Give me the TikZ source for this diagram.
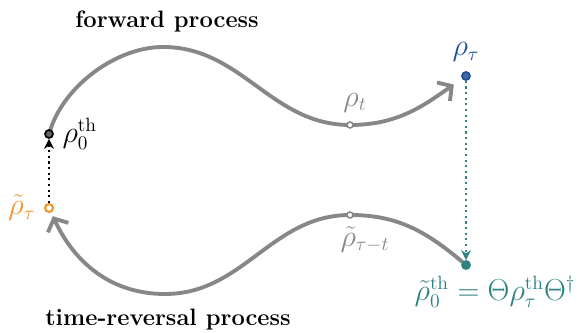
\documentclass[tikz,border=0pt]{standalone}
\usepackage{amsmath}
\usetikzlibrary{arrows.meta,positioning,backgrounds}

\definecolor{taublue}{RGB}{30,80,150}
\definecolor{thteal}{RGB}{45,130,130}
\definecolor{revorange}{RGB}{240,150,45}
\definecolor{pathgray}{RGB}{135,135,135}

\begin{document}
\begin{tikzpicture}[
  >=Stealth,
  x=0.02cm, y=0.02cm,
  node distance=1mm,
  every node/.style={font=\fontsize{16}{19}\selectfont},
  title/.style={font=\fontsize{13.5}{16}\selectfont\bfseries},
  state/.style={
    circle,
    inner sep=0pt,
    minimum size=1.6mm,
    line width=1pt
  },
  midstate/.style={
    circle,
    inner sep=0pt,
    minimum size=1.2mm,
    draw=pathgray,
    fill=white,
    line width=0.9pt
  },
  process/.style={
    draw=pathgray,
    line width=2.2pt,
    line cap=round,
    -{Straight Barb[length=2mm,width=4.5mm]}
  },
  link/.style={line width=1.2pt, dotted, -{Stealth[length=2mm,width=2mm]}}
]
  \useasboundingbox (0,0) rectangle (584,333);

  % states
  \node[state,draw=black,fill=black!60] (th) at (49,199) {};
  \node[state,draw=revorange,fill=white,line width=1.2pt] (rtau) at (49,125) {};
  \node[state,draw=taublue,fill=taublue!85] (tau) at (466,257) {};
  \node[state,draw=thteal,fill=thteal] (tth) at (466,68) {};
  \node[midstate] (rt) at (350,208) {};
  \node[midstate] (rtt) at (350,118) {};
  \coordinate (fwdtop) at (163,286);
  \coordinate (revlow) at (165,39);

  % labels
  \node[right=0.5mm of th] (thlabel) {$\rho_0^{\mathrm{th}}$};
  \node[left=0.5mm of rtau,text=revorange] (rtaulabel) {$\tilde{\rho}_\tau$};
  \node[above=0.6mm of tau,text=taublue] (taulabel) {$\rho_\tau$};
  \node[above=0.6mm of rt,text=pathgray,xshift=1mm] (rtlabel) {$\rho_t$};
  \node[below=0.3mm of rtt,text=pathgray,xshift=3mm] (rttlabel) {$\tilde{\rho}_{\tau-t}$};
  \node[below=0mm of tth,text=thteal,xshift=5.8mm] (tthlabel)
    {$\tilde{\rho}_0^{\mathrm{th}} = \Theta\rho_\tau^{\mathrm{th}}\Theta^\dagger$};

  \node[title] (fwdtitle) at (167,311) {forward process};
  \node[title] (revtitle) at (168,13) {time-reversal process};

  % processes
  \begin{scope}[on background layer]
    \draw[process,shorten >=2mm] (th) to[out=72,in=180,looseness=0.85] (fwdtop)
      to[out=0,in=180] (rt.center) to[out=0,in=215] (tau);
    \draw[process,shorten >=0.8mm] (tth) to[out=140,in=0] (rtt.center)
      to[out=180,in=0] (revlow) to[out=180,in=-65] (rtau);
  \end{scope}

  % time reversal links
  \draw[link,black] (rtau) -- (th);
  \draw[link,thteal] (tau) -- (tth);
\end{tikzpicture}
\end{document}
